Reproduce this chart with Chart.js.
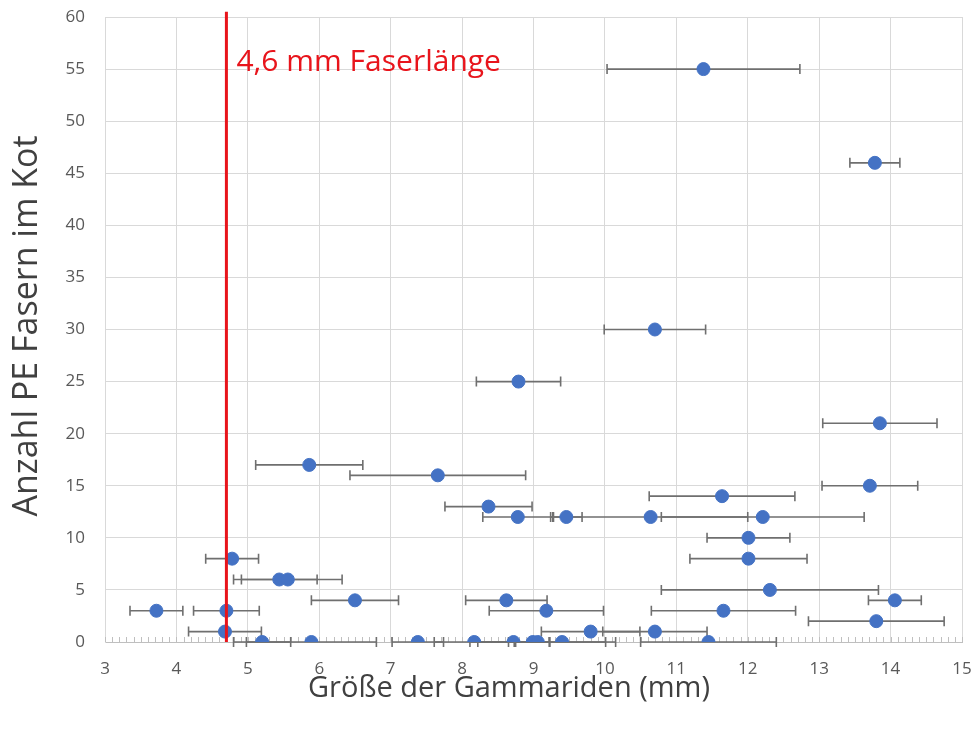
<!DOCTYPE html>
<html>
<head>
<meta charset="utf-8">
<script src="https://cdn.jsdelivr.net/npm/chart.js@4"></script>
<style>
  html, body { margin: 0; padding: 0; background: #fff; }
  #wrap { width: 974px; height: 731px; }
</style>
</head>
<body>
<div id="wrap"><canvas id="c" width="974" height="731"></canvas></div>
<script>
// Größe (mm), Anzahl Fasern, Fehler (+/- mm)
var groesse = [11.38, 13.78, 10.70, 8.79, 13.85, 5.86, 7.66, 11.64, 13.71, 8.37,
  8.78, 9.46, 10.64, 12.21, 12.01, 12.01, 4.78, 5.44, 5.56, 6.50,
  8.62, 12.31, 14.06, 3.72, 4.70, 9.18, 11.66, 13.80, 4.68, 9.80,
  10.70, 5.20, 5.89, 7.38, 8.17, 8.72, 8.99, 9.06, 9.40, 11.45];
var fasern = [55, 46, 30, 25, 21, 17, 16, 14, 15, 13,
  12, 12, 12, 12, 10, 8, 8, 6, 6, 4,
  4, 5, 4, 3, 3, 3, 3, 2, 1, 1,
  1, 0, 0, 0, 0, 0, 0, 0, 0, 0];
var fehler = [1.35, 0.35, 0.71, 0.59, 0.80, 0.75, 1.23, 1.02, 0.67, 0.61,
  0.49, 0.22, 1.36, 1.42, 0.58, 0.82, 0.37, 0.53, 0.76, 0.61,
  0.57, 1.52, 0.37, 0.37, 0.46, 0.80, 1.01, 0.95, 0.51, 0.69,
  0.73, 0.40, 0.91, 0.36, 0.56, 0.50, 0.24, 0.95, 0.75, 0.95];

var faserLinie = 4.7;
var faserText = '4,6 mm Faserlänge';
var xTitel = 'Größe der Gammariden (mm)';
var yTitel = 'Anzahl PE Fasern im Kot';

var points = groesse.map(function(x, i) { return {x: x, y: fasern[i]}; });

var errorBars = {
  id: 'errorBars',
  beforeDatasetsDraw: function(chart) {
    var xs = chart.scales.x, ys = chart.scales.y, ctx = chart.ctx;
    ctx.save();
    ctx.strokeStyle = '#6f6f6f';
    ctx.lineWidth = 1.6;
    points.forEach(function(p, i) {
      var y = ys.getPixelForValue(p.y);
      var x1 = xs.getPixelForValue(p.x - fehler[i]);
      var x2 = xs.getPixelForValue(p.x + fehler[i]);
      ctx.beginPath();
      ctx.moveTo(x1, y); ctx.lineTo(x2, y);
      ctx.moveTo(x1, y - 5); ctx.lineTo(x1, y + 5);
      ctx.moveTo(x2, y - 5); ctx.lineTo(x2, y + 5);
      ctx.stroke();
    });
    ctx.restore();
  }
};

var minorTicks = {
  id: 'minorTicks',
  beforeDatasetsDraw: function(chart) {
    var xs = chart.scales.x, ctx = chart.ctx;
    var base = chart.chartArea.bottom;
    ctx.save();
    ctx.strokeStyle = '#bfbfbf';
    ctx.lineWidth = 1;
    for (var v = 30; v <= 150; v++) {
      var px = Math.round(xs.getPixelForValue(v / 10)) + 0.5;
      ctx.beginPath();
      ctx.moveTo(px, base - 5); ctx.lineTo(px, base);
      ctx.stroke();
    }
    ctx.restore();
  }
};

// texts: fibre label and axis titles
var texte = {
  id: 'texte',
  afterDraw: function(chart) {
    var ctx = chart.ctx;
    ctx.save();
    ctx.fillStyle = '#e8141b';
    ctx.font = '30px "Open Sans", sans-serif';
    ctx.textBaseline = 'middle';
    ctx.fillText(faserText, chart.scales.x.getPixelForValue(faserLinie) + 10,
      chart.scales.y.getPixelForValue(55.6));

    ctx.fillStyle = '#404040';
    ctx.font = '29px "Open Sans", sans-serif';
    ctx.textAlign = 'center';
    ctx.fillText(xTitel, 509, 689);

    ctx.font = '34px "Open Sans", sans-serif';
    ctx.translate(27, 326);
    ctx.rotate(-Math.PI / 2);
    ctx.fillText(yTitel, 0, 0);
    ctx.restore();
  }
};

new Chart(document.getElementById('c'), {
  type: 'scatter',
  plugins: [minorTicks, errorBars, texte],
  data: {
    datasets: [
      {
        type: 'line',
        data: [{x: faserLinie, y: 0}, {x: faserLinie, y: 60.5}],
        borderColor: '#e8141b',
        borderWidth: 3,
        pointRadius: 0,
        clip: false,
        order: 0,
      },
      {
        data: points,
        backgroundColor: '#4472c4',
        borderColor: '#4472c4',
        pointRadius: 6.5,
        order: 1,
      },
    ],
  },
  options: {
    responsive: false,
    animation: false,
    layout: {
      padding: {left: 0, top: 17, right: 12, bottom: 0},
    },
    scales: {
      x: {
        type: 'linear',
        min: 3,
        max: 15,
        afterFit: function(s) {
          s.height = 89;
          s.paddingLeft = 0;
          s.paddingRight = 0;
        },
        ticks: {
          stepSize: 1,
          color: '#595959',
          font: {size: 17, family: '"Open Sans", sans-serif'},
          padding: 17,
        },
        grid: {
          color: '#d9d9d9',
          drawTicks: false,
        },
        border: {color: '#bfbfbf'},
      },
      y: {
        min: 0,
        max: 60,
        afterFit: function(s) {
          s.width = 105;
          s.paddingTop = 0;
          s.paddingBottom = 0;
        },
        ticks: {
          stepSize: 5,
          color: '#595959',
          font: {size: 17, family: '"Open Sans", sans-serif'},
          padding: 20,
        },
        grid: {
          color: '#d9d9d9',
          drawTicks: false,
        },
        border: {color: '#d9d9d9'},
      },
    },
    plugins: {
      legend: {display: false},
      tooltip: {enabled: false},
    },
  },
});
</script>
</body>
</html>
